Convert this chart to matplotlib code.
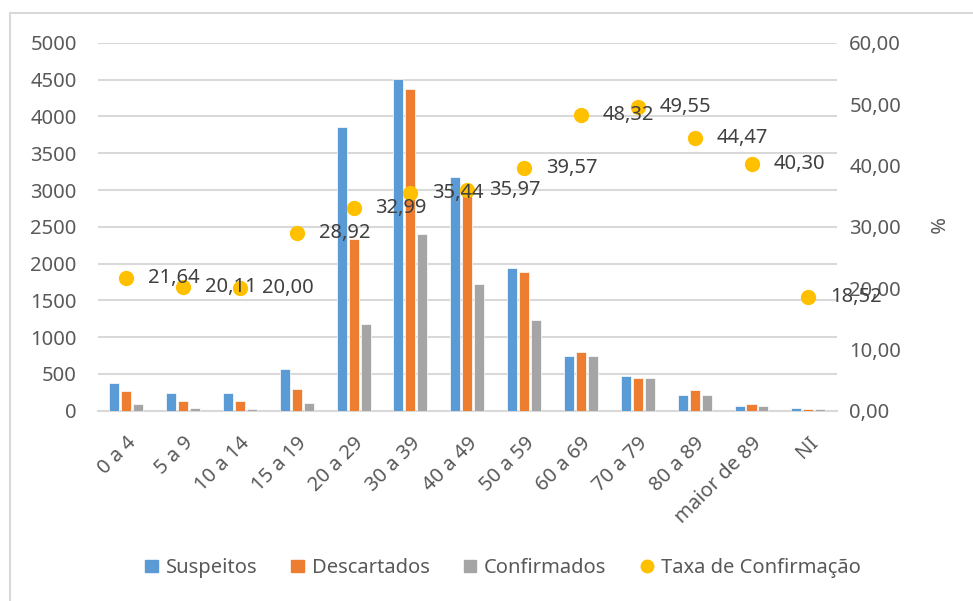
import matplotlib
matplotlib.use("Agg")
import matplotlib.pyplot as plt
import numpy as np
from matplotlib.patches import Rectangle
from matplotlib.lines import Line2D

plt.rcParams['font.family'] = ['Noto Sans', 'DejaVu Sans']

faixas = ["0 a 4", "5 a 9", "10 a 14", "15 a 19", "20 a 29", "30 a 39", "40 a 49",
          "50 a 59", "60 a 69", "70 a 79", "80 a 89", "maior de 89", "NI"]
suspeitos = [377, 244, 244, 562, 3854, 4509, 3172, 1941, 747, 467, 210, 60, 32]
descartados = [270, 138, 138, 297, 2341, 4372, 3022, 1886, 803, 439, 275, 91, 30]
confirmados = [89, 32, 28, 111, 1173, 2409, 1723, 1227, 747, 439, 210, 60, 30]
taxa = [21.64, 20.11, 20.00, 28.92, 32.99, 35.44, 35.97, 39.57, 48.32, 49.55, 44.47, 40.30, 18.52]

C_BLUE = "#5B9BD5"
C_ORANGE = "#ED7D31"
C_GRAY = "#A5A5A5"
C_GOLD = "#FFC000"
C_TEXT = "#595959"
C_GRID = "#D9D9D9"
FS = 14.5

fig = plt.figure(figsize=(9.73, 6.01), dpi=100)
ax = fig.add_axes([0.1004, 0.3166, 0.7596, 0.612])
ax2 = ax.twinx()

# outer chart frame
fig.patches.append(Rectangle((10 / 973, -0.05), 1.1, 1 - 13 / 601 + 0.05,
                             transform=fig.transFigure, fill=False,
                             edgecolor="#D9D9D9", linewidth=1.5))

x = np.arange(len(faixas))
w = 0.176
step = 0.211
ax.bar(x - step, suspeitos, w, color=C_BLUE, edgecolor="white", linewidth=0.5, zorder=3)
ax.bar(x, descartados, w, color=C_ORANGE, edgecolor="white", linewidth=0.5, zorder=3)
ax.bar(x + step, confirmados, w, color=C_GRAY, edgecolor="white", linewidth=0.5, zorder=3)

ax.set_xlim(-0.5, len(faixas) - 0.5)
ax.set_ylim(0, 5000)
ax.set_yticks(np.arange(0, 5001, 500))
ax.yaxis.grid(True, color=C_GRID, linewidth=1.5, zorder=0)
ax.set_axisbelow(True)
for s in ["left", "right", "top"]:
    ax.spines[s].set_visible(False)
    ax2.spines[s].set_visible(False)
ax.spines["bottom"].set_color(C_GRID)
ax.spines["bottom"].set_linewidth(1.5)
ax2.spines["bottom"].set_visible(False)

ax.tick_params(axis="y", length=0, pad=15, labelsize=FS, labelcolor=C_TEXT)
ax.tick_params(axis="x", length=0, pad=16, labelsize=FS, labelcolor=C_TEXT)
ax.set_xticks(x)
ax.set_xticklabels(faixas, rotation=45, ha="right", va="top", rotation_mode="anchor")

ax2.set_ylim(0, 60)
ax2.set_yticks(np.arange(0, 61, 10))
ax2.set_yticklabels([f"{v:.2f}".replace(".", ",") for v in np.arange(0, 61, 10)])
ax2.tick_params(axis="y", length=0, pad=9, labelsize=FS, labelcolor=C_TEXT)
ax2.set_ylabel("%", rotation=270, fontsize=FS, color=C_TEXT, labelpad=31)

ax2.plot(x, taxa, linestyle="none", marker="o", markersize=10, color=C_GOLD, zorder=4)
for xi, v in zip(x, taxa):
    ax2.annotate(f"{v:.2f}".replace(".", ","), (xi, v), xytext=(22, 0),
                 textcoords="offset pixels", ha="left", va="center",
                 fontsize=FS, color="#404040", annotation_clip=False, zorder=5)

handles = [
    Rectangle((0, 0), 1, 1, color=C_BLUE),
    Rectangle((0, 0), 1, 1, color=C_ORANGE),
    Rectangle((0, 0), 1, 1, color=C_GRAY),
    Line2D([], [], linestyle="none", marker="o", markersize=9, color=C_GOLD),
]
labels = ["Suspeitos", "Descartados", "Confirmados", "Taxa de Confirmação"]
leg = fig.legend(handles, labels, loc="center", bbox_to_anchor=(503 / 973, 1 - 568 / 601),
                 ncol=4, frameon=False, fontsize=FS, handlelength=0.6, handleheight=0.6,
                 handletextpad=0.4, columnspacing=1.7, labelcolor=C_TEXT)

fig.savefig("out.png", dpi=100)
